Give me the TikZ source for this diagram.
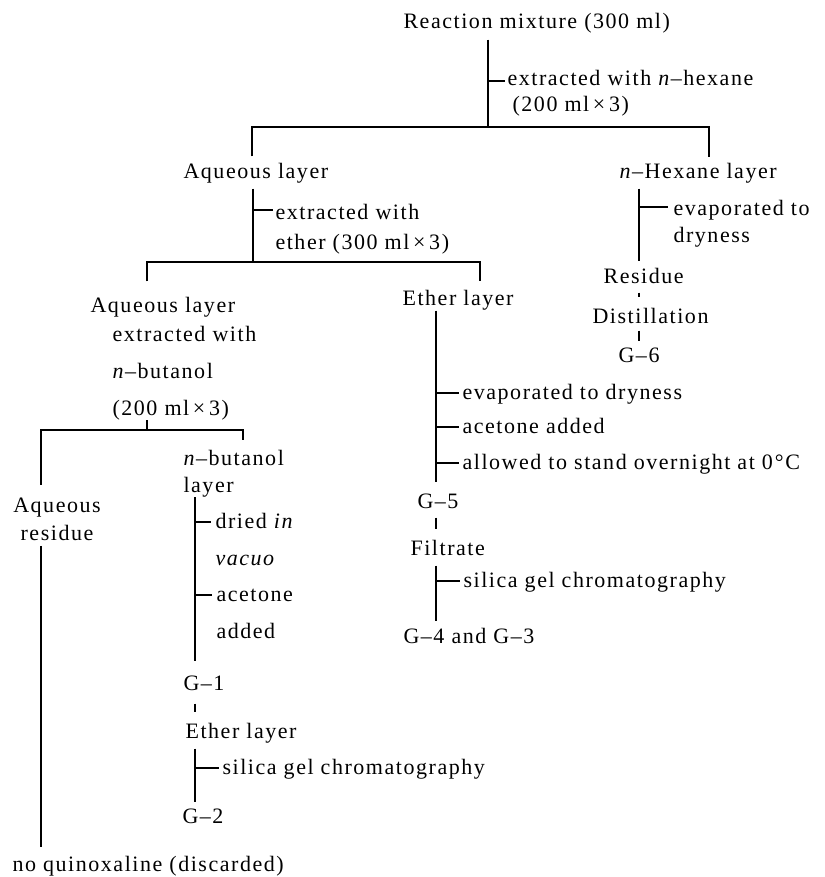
\documentclass[tikz,border=0pt]{standalone}
\usepackage{fontspec}
\setmainfont{Liberation Serif}[LetterSpace=7]
\usetikzlibrary{calc}

\begin{document}
\begin{tikzpicture}[x=1pt,y=-1pt,line width=1.1pt,
    every node/.style={inner sep=0pt,font=\fontsize{22}{26}\selectfont},
    txt/.style={anchor=base west,text height=15pt,text depth=5pt},
    lbl/.style={anchor=base west,align=left}]
\useasboundingbox (0,0) rectangle (824,877);

% reaction mixture
\node[txt] (mix) at (403,29) {Reaction mixture (300 ml)};
\node[lbl] (hexext) at (507,112) {extracted with \textit{n}--hexane\\\hspace*{5pt}(200 ml\,×\,3)};
\node[txt] (aq1) at (183,179) {Aqueous layer};
\node[txt] (hexl) at (619,179) {\textit{n}--Hexane layer};
\coordinate (j1) at (488,127);
\coordinate (j1l) at (252,127);
\coordinate (j1r) at (709,127);
\coordinate (t1) at (488,81);
\draw ([yshift=-5pt]mix.south -| j1) -- (j1);
\draw (t1) -- ([xshift=-2pt]t1 -| hexext.west);
\draw ([yshift=7pt]aq1.north -| j1l) -- (j1l) -- (j1r) -- ([yshift=6pt]hexl.north -| j1r);

% ether extraction
\node[lbl] (ethext) at (275,249) {extracted with\\[3pt]ether (300 ml\,×\,3)};
\node[txt] (aq2) at (90,312) {Aqueous layer};
\node[txt] (eth1) at (402,305) {Ether layer};
\coordinate (j2) at (253,262);
\coordinate (j2l) at (147,262);
\coordinate (j2r) at (480,262);
\coordinate (t2) at (253,210);
\draw ([yshift=-4pt]aq1.south -| j2) -- (j2);
\draw (t2) -- ([xshift=-2pt]t2 -| ethext.west);
\draw ([yshift=15pt]aq2.north -| j2l) -- (j2l) -- (j2r) -- ([yshift=8pt]eth1.north -| j2r);

% butanol extraction
\node[lbl] (butext) at (112,415) {extracted with\\[11pt]\textit{n}--butanol\\[11pt](200 ml\,×\,3)};
\node[lbl,align=center,anchor=base] (aqres) at (57,540) {Aqueous\\[2pt]residue};
\node[lbl] (butl) at (183,492) {\textit{n}--butanol\\[1pt]layer};
\node[txt] (quin) at (12,871) {no quinoxaline (discarded)};
\coordinate (j3) at (147,430);
\coordinate (j3l) at (41,430);
\coordinate (j3r) at (243,430);
\draw (butext.south -| j3) -- (j3);
\draw ([yshift=12pt]aqres.north -| j3l) -- (j3l) -- (j3r) -- ([yshift=9pt]butl.north -| j3r);
\draw ([yshift=-5pt]aqres.south -| j3l) -- ([yshift=8pt]quin.north -| j3l);

% n-butanol layer
\node[lbl] (dried) at (215,565) {dried \textit{in}\\[11pt]\textit{vacuo}};
\node[lbl] (acet1) at (216,638) {acetone\\[11pt]added};
\node[txt] (g1) at (183,690) {G--1};
\node[txt] (eth2) at (185,738) {Ether layer};
\node[txt] (chrom1) at (222,774) {silica gel chromatography};
\node[txt] (g2) at (182,823) {G--2};
\coordinate (t4a) at (195,522);
\coordinate (t4b) at (195,595);
\coordinate (t4c) at (195,768);
\draw (butl.south -| t4a) -- ([yshift=13pt]g1.north -| t4a);
\draw (t4a) -- ([xshift=-4pt]t4a -| dried.west);
\draw (t4b) -- ([xshift=-4pt]t4b -| acet1.west);
\draw ([yshift=-8pt]g1.south -| t4a) -- ([yshift=10pt]eth2.north -| t4a);
\draw ([yshift=-5pt]eth2.south -| t4c) -- ([yshift=5pt]g2.north -| t4c);
\draw (t4c) -- ([xshift=-3pt]t4c -| chrom1.west);

% ether layer
\node[txt] (evap2) at (462,399) {evaporated to dryness};
\node[txt] (acet2) at (462,433) {acetone added};
\node[txt] (stand) at (462,469) {allowed to stand overnight at 0\kern2pt°C};
\node[txt] (g5) at (417,508) {G--5};
\node[txt] (filt) at (410,555) {Filtrate};
\node[txt] (chrom2) at (463,587) {silica gel chromatography};
\node[txt] (g43) at (403,643) {G--4 and G--3};
\coordinate (t5a) at (436,393);
\coordinate (t5b) at (436,427);
\coordinate (t5c) at (436,463);
\coordinate (t5d) at (436,581);
\draw (eth1.south -| t5a) -- ([yshift=10pt]g5.north -| t5a);
\foreach \t/\n in {t5a/evap2,t5b/acet2,t5c/stand}
  \draw (\t) -- ([xshift=-3pt]\t -| \n.west);
\draw ([yshift=-4pt]g5.south -| t5a) -- ([yshift=10pt]filt.north -| t5a);
\draw ([yshift=-5pt]filt.south -| t5d) -- ([yshift=6pt]g43.north -| t5d);
\draw (t5d) -- ([xshift=-3pt]t5d -| chrom2.west);

% hexane layer
\node[lbl] (evap1) at (673,242) {evaporated to\\[1pt]dryness};
\node[txt] (res) at (603,283) {Residue};
\node[txt] (dist) at (592,323) {Distillation};
\node[txt] (g6) at (618,362) {G--6};
\coordinate (t6) at (639,207);
\draw ([yshift=-4pt]hexl.south -| t6) -- ([yshift=6pt]res.north -| t6);
\draw (t6) -- ([xshift=-5pt]t6 -| evap1.west);
\draw ([yshift=-4pt]res.south -| t6) -- ([yshift=10pt]dist.north -| t6);
\draw ([yshift=-2pt]dist.south -| t6) -- ([yshift=5pt]g6.north -| t6);
\end{tikzpicture}
\end{document}
